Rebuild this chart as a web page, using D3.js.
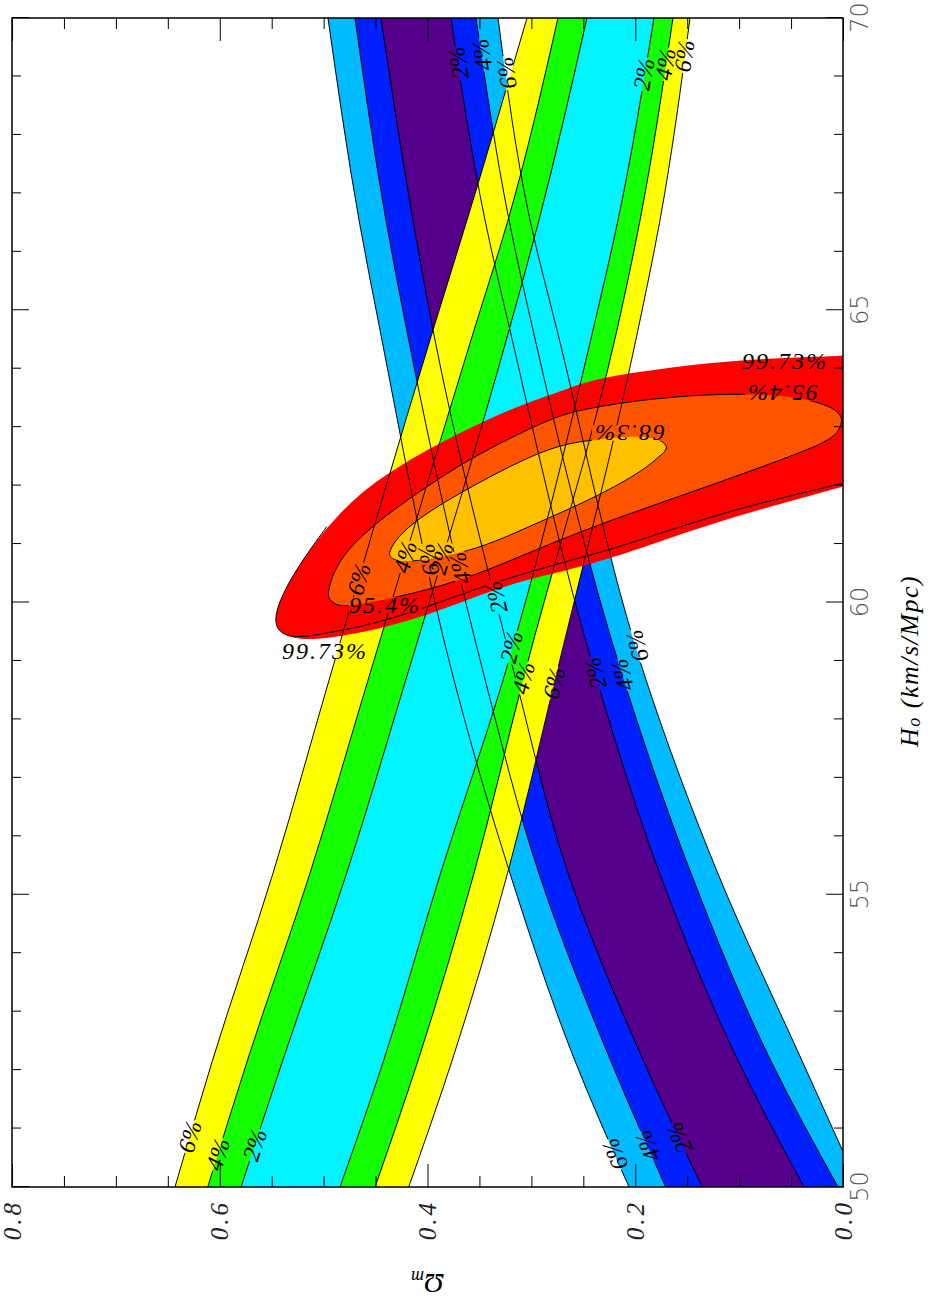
<!DOCTYPE html>
<html>
<head>
<meta charset="utf-8">
<title>H0 - Omega_m</title>
<script src="https://cdn.jsdelivr.net/npm/d3@7/dist/d3.min.js"></script>
<style>
  body { margin: 0; background: #fff; }
  svg { display: block; }
</style>
</head>
<body>
<svg id="chart" width="928" height="1307"></svg>
<script>
const bandH0 = [50, 52.17, 55.37, 58.67, 64.66, 66.54, 70];

// band set A (purple / blue / light blue): Omega_m of each boundary at bandH0
const A6hi = [0.2060, 0.2583, 0.3207, 0.3745, 0.4457, 0.4659, 0.4958];
const A4hi = [0.1707, 0.2239, 0.2928, 0.3444, 0.4200, 0.4400, 0.4698];
const A2hi = [0.1355, 0.1924, 0.2647, 0.3148, 0.3947, 0.4140, 0.4448];
const A2lo = [0.0375, 0.1013, 0.1766, 0.2368, 0.3206, 0.3446, 0.3774];
const A4lo = [0.0048, 0.0698, 0.1464, 0.2110, 0.2984, 0.3215, 0.3533];
const A6lo = [-0.0154, 0.0397, 0.1206, 0.1895, 0.2753, 0.3013, 0.3321];

// band set B (cyan / green / yellow)
const B6hi = [0.6431, 0.6069, 0.5487, 0.4948, 0.3947, 0.3620, 0.3042];
const B4hi = [0.6116, 0.5733, 0.5131, 0.4573, 0.3552, 0.3225, 0.2744];
const B2hi = [0.5795, 0.5393, 0.4778, 0.4210, 0.3215, 0.2927, 0.2465];
const B2lo = [0.4842, 0.4421, 0.3874, 0.3273, 0.2407, 0.2166, 0.1820];
const B4lo = [0.4505, 0.4090, 0.3552, 0.3081, 0.2176, 0.1954, 0.1637];
const B6lo = [0.4181, 0.3762, 0.3229, 0.2773, 0.1974, 0.1762, 0.1473];

// confidence regions, [H0, Omega_m]
const fill997 = [[64.286,-0.0549],[64.217,0],[64.183,0.0674],[64.098,0.1312],[63.949,0.1954],[63.807,0.2436],
  [63.607,0.2724],[63.413,0.3045],[63.179,0.3369],[62.900,0.3687],[62.609,0.4008],[62.267,0.4332],[61.873,0.4650],
  [61.297,0.4970],[60.505,0.5295],[59.786,0.5490],[59.461,0.5439],[59.358,0.5227],[59.388,0.4970],[59.478,0.4650],
  [59.615,0.4332],[59.786,0.4008],[59.991,0.3687],[60.214,0.3369],[60.385,0.3045],[60.522,0.2724],[60.727,0.2275],
  [61.126,0.1637],[61.497,0.0992],[61.810,0.0349],[61.981,0],[62.267,-0.0549]];
const line997 = [[61.297,0.4970],[60.505,0.5295],[59.786,0.5490],[59.461,0.5439],[59.393,0.5227],[59.478,0.4970],
  [59.581,0.4650],[59.735,0.4332],[59.923,0.4008],[60.128,0.3687],[60.334,0.3369],[60.505,0.3045],[60.676,0.2724],
  [60.881,0.2275],[61.258,0.1637],[61.617,0.0992],[61.891,0.0349],[62.039,0],[62.301,-0.0549]];
const c954 = [[60.157,0.4970],[60.676,0.4874],[61.126,0.4650],[61.583,0.4332],[61.981,0.4008],[62.352,0.3687],
  [62.666,0.3369],[62.951,0.3045],[63.208,0.2724],[63.327,0.2436],[63.465,0.1954],[63.567,0.1312],[63.567,0.0674],
  [63.430,0.0193],[63.208,-0.0010],[62.986,0.0029],[62.780,0.0096],[62.387,0.0674],[61.981,0.1312],[61.583,0.1954],
  [61.275,0.2436],[60.932,0.2917],[60.590,0.3369],[60.385,0.3687],[60.214,0.4008],[60.077,0.4332],[59.974,0.4650],
  [59.923,0.4842],[60.026,0.4939]];
const c683 = [[60.869,0.4377],[61.189,0.4260],[61.531,0.4008],[61.873,0.3687],[62.181,0.3369],[62.472,0.3045],
  [62.695,0.2724],[62.780,0.2436],[62.866,0.1954],[62.780,0.1742],[62.643,0.1675],[62.507,0.1762],[62.216,0.1954],
  [61.754,0.2436],[61.383,0.2917],[61.018,0.3369],[60.847,0.3687],[60.727,0.4008],[60.693,0.4260],[60.761,0.4360]];

// labels on the band boundaries: which line, and the H0 where the label sits
const bandLabelLine = ["A2lo","A4lo","A6lo","A2lo","A4lo","A6lo","B2lo","B4lo","B6lo","B2lo","B4lo","B6lo",
  "A2hi","A4hi","A6hi","A2hi","A4hi","A6hi","B2hi","B4hi","B6hi","B2hi","B4hi","B6hi"];
const bandLabelH0 = [69.23,69.37,69.06,58.79,58.76,59.26,69.04,69.21,69.35,59.24,58.71,58.62,
  50.84,50.70,50.56,60.09,60.59,60.73,50.72,50.56,50.86,60.76,60.78,60.40];

// labels on the confidence contours
const confLabelText = ["99.73%", "99.73%", "95.4%", "95.4%", "68.3%"];
const confLabelH0 = [59.17, 64.13, 59.96, 63.58, 62.90];
const confLabelOm = [0.4987, 0.0558, 0.4409, 0.0587, 0.2060];
const confLabelFlip = [false, false, false, true, true];

// ticks
const h0Major = [50, 55, 60, 65, 70];
const h0Minor = [51, 52, 53, 54, 56, 57, 58, 59, 61, 62, 63, 64, 66, 67, 68, 69];
const omMajor = [0, 0.2, 0.4, 0.6, 0.8];
const omMinor = [0.05, 0.1, 0.15, 0.25, 0.3, 0.35, 0.45, 0.5, 0.55, 0.65, 0.7, 0.75];

const serif = '"Liberation Serif", "DejaVu Serif", serif';
const W = 1169, H = 831;

const svg = d3.select("#chart");
const defs = svg.append("defs");
// the plot is drawn landscape and turned a quarter turn
const g = svg.append("g").attr("transform", "translate(12,1187) rotate(-90)");

const x = d3.scaleLinear().domain([50, 70]).range([0, W]);
const y = d3.scaleLinear().domain([0, 0.8]).range([H, 0]);

defs.append("clipPath").attr("id", "plot")
  .append("rect").attr("width", W).attr("height", H);
const mask = defs.append("mask").attr("id", "gaps")
  .attr("maskUnits", "userSpaceOnUse")
  .attr("x", -500).attr("y", -500).attr("width", 3000).attr("height", 3000);
mask.append("rect").attr("x", -500).attr("y", -500).attr("width", 3000).attr("height", 3000).attr("fill", "white");

const lineArr = { A6hi, A4hi, A2hi, A2lo, A4lo, A6lo, B6hi, B4hi, B2hi, B2lo, B4lo, B6lo };

const bandArea = (hi, lo) => d3.area()
  .x((d, i) => x(bandH0[i]))
  .y0((d, i) => y(lo[i]))
  .y1((d, i) => y(hi[i]))
  .curve(d3.curveMonotoneX)(bandH0);
const bandLine = d3.line()
  .x((d, i) => x(bandH0[i]))
  .y(d => y(d))
  .curve(d3.curveMonotoneX);
const conf = d3.line().x(d => x(d[0])).y(d => y(d[1]));

const fills = g.append("g").attr("clip-path", "url(#plot)");
[[A6hi, A6lo, "#00BBFF"], [A4hi, A4lo, "#0020FF"], [A2hi, A2lo, "#55008C"],
 [B6hi, B6lo, "#FFFF00"], [B4hi, B4lo, "#14FF00"], [B2hi, B2lo, "#00F4FF"]]
  .forEach(([hi, lo, c]) => fills.append("path").attr("d", bandArea(hi, lo)).attr("fill", c));

fills.append("path").attr("d", conf.curve(d3.curveBasis)(fill997)).attr("fill", "#FF0000");
fills.append("path").attr("d", conf.curve(d3.curveBasisClosed)(c954)).attr("fill", "#FF5500");
fills.append("path").attr("d", conf.curve(d3.curveBasisClosed)(c683)).attr("fill", "#FFC000");

const clipped = g.append("g").attr("clip-path", "url(#plot)");
const lines = clipped.append("g").attr("mask", "url(#gaps)")
  .attr("fill", "none").attr("stroke", "#000").attr("stroke-width", 1);
Object.values(lineArr).forEach(arr => lines.append("path").attr("d", bandLine(arr)));
lines.append("path").attr("d", conf.curve(d3.curveBasis)(line997));
lines.append("path").attr("d", conf.curve(d3.curveBasisClosed)(c954));
lines.append("path").attr("d", conf.curve(d3.curveBasisClosed)(c683));

// Omega_m on a boundary line, linear between read points
function omAt(arr, h) {
  const i = Math.max(0, Math.min(bandH0.length - 2, d3.bisectRight(bandH0, h) - 1));
  const t = (h - bandH0[i]) / (bandH0[i + 1] - bandH0[i]);
  return arr[i] + t * (arr[i + 1] - arr[i]);
}

const labels = g.append("g").attr("font-family", serif).attr("font-style", "italic").attr("fill", "#000");

bandLabelLine.forEach((name, k) => {
  const arr = lineArr[name], h = bandLabelH0[k];
  const dx = x(h + 0.1) - x(h - 0.1);
  const dy = y(omAt(arr, h + 0.1)) - y(omAt(arr, h - 0.1));
  const ang = Math.atan2(dy, dx) * 180 / Math.PI;
  const tf = `translate(${x(h)},${y(omAt(arr, h))}) rotate(${ang})`;
  labels.append("text").attr("transform", tf)
    .attr("text-anchor", "middle").attr("dominant-baseline", "central")
    .attr("font-size", 24).text(name[1] + "%");
});

confLabelText.forEach((t, k) => {
  const tf = `translate(${x(confLabelH0[k])},${y(confLabelOm[k])}) rotate(${confLabelFlip[k] ? -90 : 90})`;
  labels.append("text").attr("transform", tf)
    .attr("text-anchor", "middle").attr("dominant-baseline", "central")
    .attr("font-size", 24).attr("letter-spacing", 2).text(t);
});

// cut the contour lines where the labels sit
labels.selectAll("text").each(function () {
  const b = this.getBBox();
  mask.append("rect").attr("transform", this.getAttribute("transform"))
    .attr("x", b.x - 1).attr("y", b.y + b.height * 0.2)
    .attr("width", b.width + 2).attr("height", b.height * 0.6).attr("fill", "black");
});

// ticks on all four sides, pointing inwards
function tickRow(axis, values, size, tf) {
  g.append("g").attr("transform", tf)
    .call(axis.tickValues(values).tickSize(-size).tickFormat(""))
    .call(s => s.select(".domain").remove());
}
tickRow(d3.axisBottom(x), h0Minor, 9, `translate(0,${H})`);
tickRow(d3.axisTop(x), h0Minor, 9, "translate(0,0)");
tickRow(d3.axisTop(x), h0Major, 17, "translate(0,0)");
tickRow(d3.axisLeft(y), omMinor, 11, "translate(0,0)");
tickRow(d3.axisRight(y), omMinor, 11, `translate(${W},0)`);
tickRow(d3.axisRight(y), omMajor, 23, `translate(${W},0)`);

g.append("g").attr("transform", `translate(0,${H})`)
  .call(d3.axisBottom(x).tickValues(h0Major).tickSize(-17).tickPadding(8).tickFormat(d3.format("d")))
  .call(s => s.select(".domain").remove())
  .call(s => s.selectAll("text").attr("font-size", 24).attr("fill", "#555")
    .attr("font-family", '"DejaVu Sans", sans-serif').attr("font-weight", 200));

g.append("g")
  .call(d3.axisLeft(y).tickValues(omMajor).tickSize(-23).tickPadding(13).tickFormat(d3.format(".1f")))
  .call(s => s.select(".domain").remove())
  .call(s => s.selectAll("text").attr("font-size", 25).attr("fill", "#222")
    .attr("font-family", serif).attr("font-style", "italic").attr("letter-spacing", 3));

g.append("rect").attr("width", W).attr("height", H)
  .attr("fill", "none").attr("stroke", "#000").attr("stroke-width", 1.5);

// axis titles
const hTitle = g.append("text").attr("x", x(59)).attr("y", H + 66)
  .attr("text-anchor", "middle").attr("dominant-baseline", "central")
  .attr("font-family", serif).attr("font-style", "italic").attr("font-size", 26).attr("letter-spacing", 1.5);
hTitle.append("tspan").text("H");
hTitle.append("tspan").attr("font-size", 18).attr("dy", 5).text("o");
hTitle.append("tspan").attr("dy", -5).text(" (km/s/Mpc)");

const oTitle = g.append("text").attr("transform", `translate(-97,${y(0.4)}) rotate(-90)`)
  .attr("text-anchor", "middle").attr("dominant-baseline", "central")
  .attr("font-family", serif).attr("font-style", "italic").attr("font-size", 28);
oTitle.append("tspan").text("Ω");
oTitle.append("tspan").attr("font-size", 18).attr("dy", 7).text("m");
</script>
</body>
</html>
